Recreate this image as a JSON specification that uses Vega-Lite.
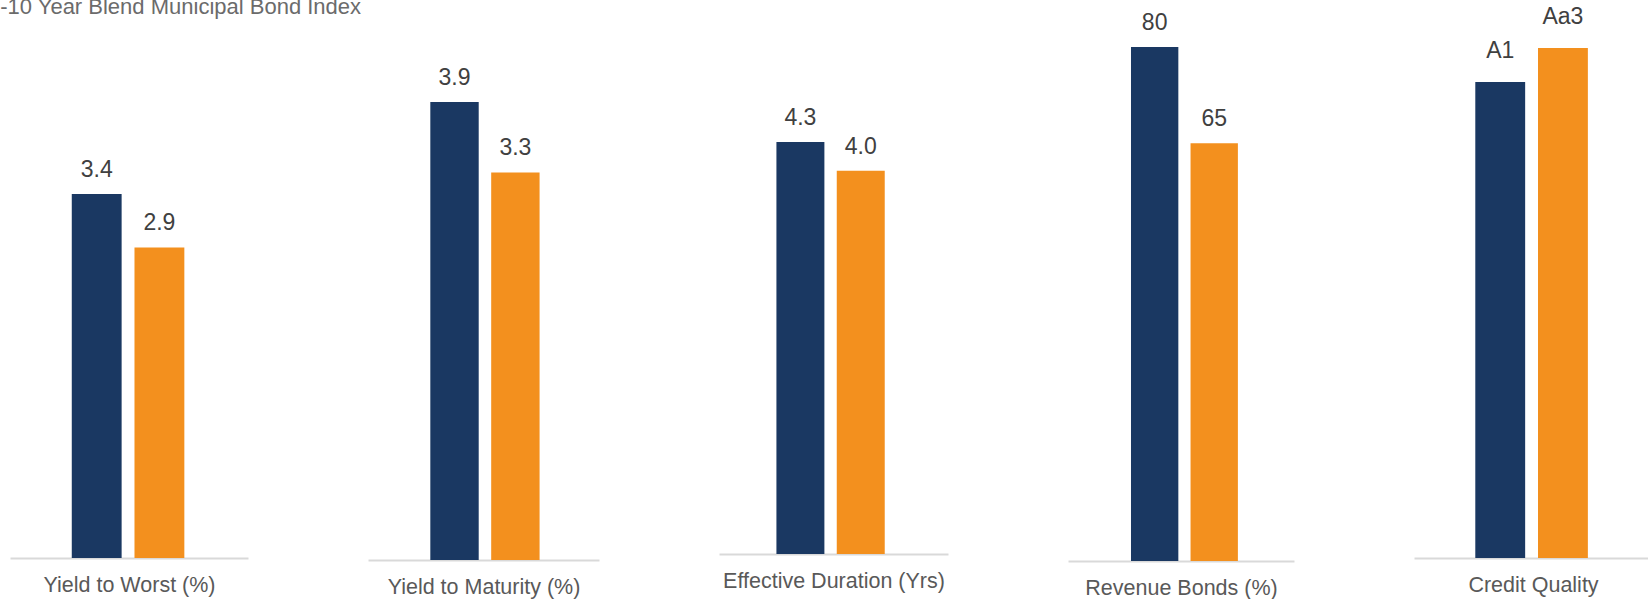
{
  "$schema": "https://vega.github.io/schema/vega-lite/v6.json",
  "padding": {"left": -12, "top": -5, "right": 0, "bottom": 0},
  "background": "white",
  "title": {
    "text": "1-10 Year Blend Municipal Bond Index",
    "anchor": "start",
    "frame": "group",
    "dx": -22,
    "offset": -13,
    "font": "Liberation Sans",
    "fontSize": 22,
    "fontWeight": "normal",
    "color": "#6b6b6b"
  },
  "data": {
    "values": [
      {"category": "Yield to Worst (%)", "series": "Portfolio", "value": 3.4},
      {"category": "Yield to Worst (%)", "series": "Index", "value": 2.9},
      {"category": "Yield to Maturity (%)", "series": "Portfolio", "value": 3.9},
      {"category": "Yield to Maturity (%)", "series": "Index", "value": 3.3},
      {"category": "Effective Duration (Yrs)", "series": "Portfolio", "value": 4.3},
      {"category": "Effective Duration (Yrs)", "series": "Index", "value": 4.0},
      {"category": "Revenue Bonds (%)", "series": "Portfolio", "value": 80},
      {"category": "Revenue Bonds (%)", "series": "Index", "value": 65},
      {"category": "Credit Quality", "series": "Portfolio", "value": 14, "rating": "A1"},
      {"category": "Credit Quality", "series": "Index", "value": 15, "rating": "Aa3"}
    ]
  },
  "config": {
    "view": {"stroke": null},
    "axis": {"grid": false},
    "text": {"font": "Liberation Sans"}
  },
  "bounds": "flush",
  "spacing": 120,
  "hconcat": [
    {
      "width": 238,
      "height": 527,
      "transform": [{"filter": "datum.category === 'Yield to Worst (%)'"}],
      "encoding": {
        "x": {
          "field": "series", "type": "nominal", "sort": ["Portfolio", "Index"],
          "scale": {"paddingInner": 0.205, "paddingOuter": 1.1367, "align": 0.4925},
          "axis": {"title": "Yield to Worst (%)", "labels": false, "ticks": false, "domainColor": "#d9d9d9", "domainWidth": 2, "titleFont": "Liberation Sans", "titleFontSize": 21.5, "titleFontWeight": "normal", "titleColor": "#595959", "titlePadding": 16}
        },
        "y": {"field": "value", "type": "quantitative", "scale": {"domain": [0, 4.922], "nice": false}, "axis": null}
      },
      "layer": [
        {
          "mark": {"type": "bar"},
          "encoding": {"color": {"field": "series", "type": "nominal", "scale": {"domain": ["Portfolio", "Index"], "range": ["#1a3862", "#f3901e"]}, "legend": null}}
        },
        {
          "mark": {"type": "text", "baseline": "alphabetic", "dy": -17, "fontSize": 23, "color": "#404040"},
          "encoding": {"text": {"field": "value", "type": "quantitative", "format": ".1f"}}
        }
      ]
    },
    {
      "width": 231,
      "height": 529,
      "transform": [{"filter": "datum.category === 'Yield to Maturity (%)'"}],
      "encoding": {
        "x": {
          "field": "series", "type": "nominal", "sort": ["Portfolio", "Index"],
          "scale": {"paddingInner": 0.205, "paddingOuter": 1.0769, "align": 0.5119},
          "axis": {"title": "Yield to Maturity (%)", "labels": false, "ticks": false, "domainColor": "#d9d9d9", "domainWidth": 2, "titleFont": "Liberation Sans", "titleFontSize": 21.5, "titleFontWeight": "normal", "titleColor": "#595959", "titlePadding": 16}
        },
        "y": {"field": "value", "type": "quantitative", "scale": {"domain": [0, 4.504], "nice": false}, "axis": null}
      },
      "layer": [
        {
          "mark": {"type": "bar"},
          "encoding": {"color": {"field": "series", "type": "nominal", "scale": {"domain": ["Portfolio", "Index"], "range": ["#1a3862", "#f3901e"]}, "legend": null}}
        },
        {
          "mark": {"type": "text", "baseline": "alphabetic", "dy": -17, "fontSize": 23, "color": "#404040"},
          "encoding": {"text": {"field": "value", "type": "quantitative", "format": ".1f"}}
        }
      ]
    },
    {
      "width": 229,
      "height": 523,
      "transform": [{"filter": "datum.category === 'Effective Duration (Yrs)'"}],
      "encoding": {
        "x": {
          "field": "series", "type": "nominal", "sort": ["Portfolio", "Index"],
          "scale": {"paddingInner": 0.205, "paddingOuter": 1.0598, "align": 0.4758},
          "axis": {"title": "Effective Duration (Yrs)", "labels": false, "ticks": false, "domainColor": "#d9d9d9", "domainWidth": 2, "titleFont": "Liberation Sans", "titleFontSize": 21.5, "titleFontWeight": "normal", "titleColor": "#595959", "titlePadding": 16}
        },
        "y": {"field": "value", "type": "quantitative", "scale": {"domain": [0, 5.459], "nice": false}, "axis": null}
      },
      "layer": [
        {
          "mark": {"type": "bar"},
          "encoding": {"color": {"field": "series", "type": "nominal", "scale": {"domain": ["Portfolio", "Index"], "range": ["#1a3862", "#f3901e"]}, "legend": null}}
        },
        {
          "mark": {"type": "text", "baseline": "alphabetic", "dy": -17, "fontSize": 23, "color": "#404040"},
          "encoding": {"text": {"field": "value", "type": "quantitative", "format": ".1f"}}
        }
      ]
    },
    {
      "width": 226,
      "height": 530,
      "transform": [{"filter": "datum.category === 'Revenue Bonds (%)'"}],
      "encoding": {
        "x": {
          "field": "series", "type": "nominal", "sort": ["Portfolio", "Index"],
          "scale": {"paddingInner": 0.205, "paddingOuter": 1.0341, "align": 0.5289},
          "axis": {"title": "Revenue Bonds (%)", "labels": false, "ticks": false, "domainColor": "#d9d9d9", "domainWidth": 2, "titleFont": "Liberation Sans", "titleFontSize": 21.5, "titleFontWeight": "normal", "titleColor": "#595959", "titlePadding": 16}
        },
        "y": {"field": "value", "type": "quantitative", "scale": {"domain": [0, 82.49], "nice": false}, "axis": null}
      },
      "layer": [
        {
          "mark": {"type": "bar"},
          "encoding": {"color": {"field": "series", "type": "nominal", "scale": {"domain": ["Portfolio", "Index"], "range": ["#1a3862", "#f3901e"]}, "legend": null}}
        },
        {
          "mark": {"type": "text", "baseline": "alphabetic", "dy": -17, "fontSize": 23, "color": "#404040"},
          "encoding": {"text": {"field": "value", "type": "quantitative", "format": "d"}}
        }
      ]
    },
    {
      "width": 238,
      "height": 527,
      "transform": [{"filter": "datum.category === 'Credit Quality'"}],
      "encoding": {
        "x": {
          "field": "series", "type": "nominal", "sort": ["Portfolio", "Index"],
          "scale": {"paddingInner": 0.205, "paddingOuter": 1.1367, "align": 0.4887},
          "axis": {"title": "Credit Quality", "labels": false, "ticks": false, "domainColor": "#d9d9d9", "domainWidth": 2, "titleFont": "Liberation Sans", "titleFontSize": 21.5, "titleFontWeight": "normal", "titleColor": "#595959", "titlePadding": 16}
        },
        "y": {"field": "value", "type": "quantitative", "scale": {"domain": [0, 15.5], "nice": false}, "axis": null}
      },
      "layer": [
        {
          "mark": {"type": "bar"},
          "encoding": {"color": {"field": "series", "type": "nominal", "scale": {"domain": ["Portfolio", "Index"], "range": ["#1a3862", "#f3901e"]}, "legend": null}}
        },
        {
          "mark": {"type": "text", "baseline": "alphabetic", "dy": -24, "fontSize": 23, "color": "#404040"},
          "encoding": {"text": {"field": "rating", "type": "nominal"}}
        }
      ]
    }
  ]
}
